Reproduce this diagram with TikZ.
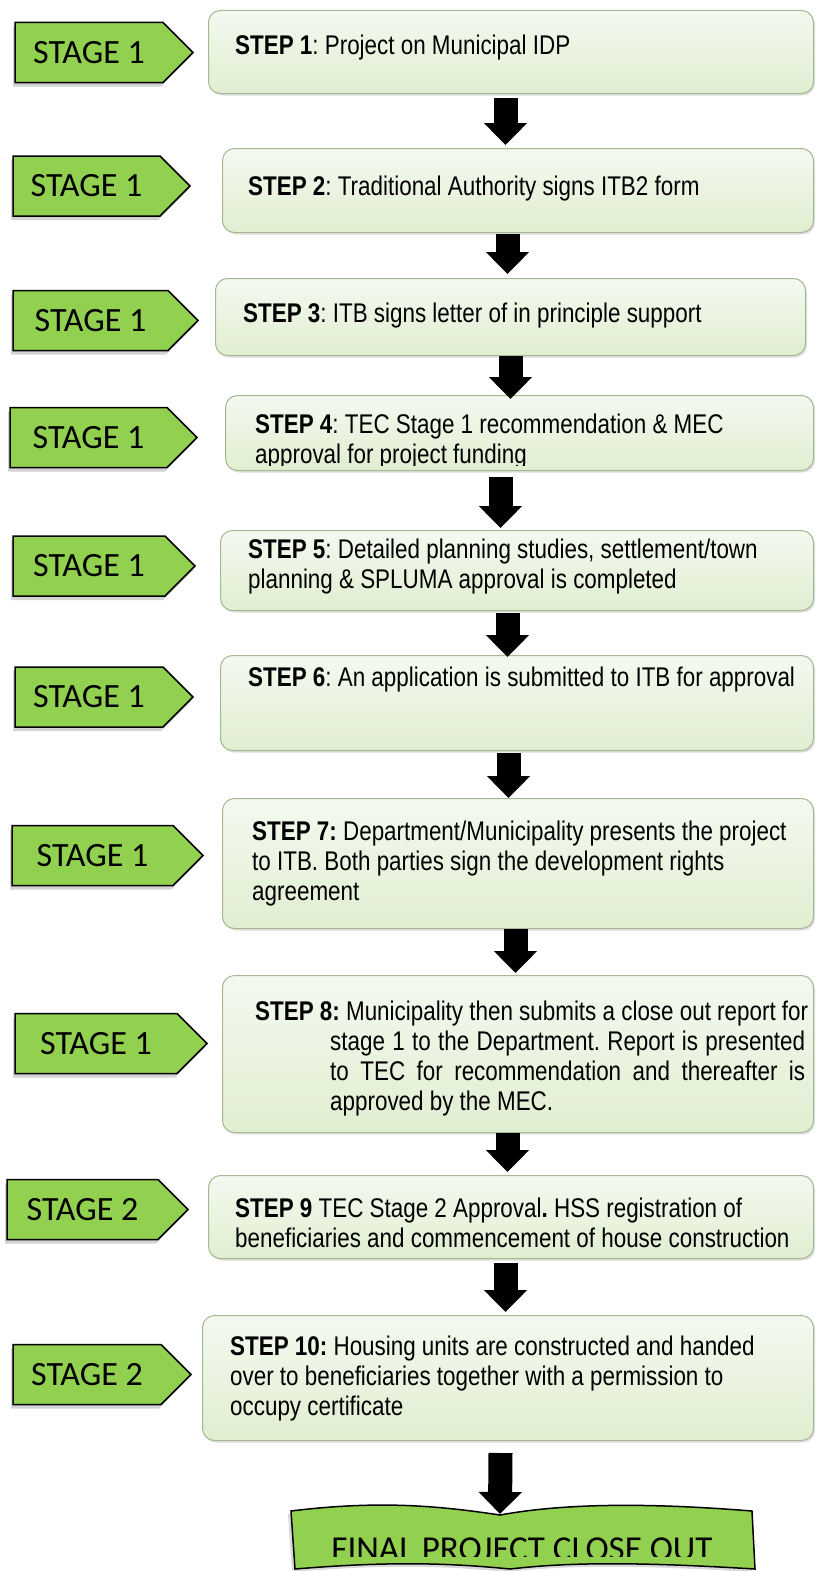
\documentclass[tikz,border=0pt]{standalone}
\usepackage{fontspec}
\newfontfamily\stepfont{Liberation Sans}[FakeStretch=0.83]
\newfontfamily\stagefont{Carlito}
\usetikzlibrary{shapes.symbols,shadows,arrows.meta}

\definecolor{stagegreen}{RGB}{146,208,80}
\definecolor{boxtop}{RGB}{244,249,240}
\definecolor{boxbot}{RGB}{224,238,208}
\definecolor{boxline}{RGB}{165,185,145}

\tikzset{
  stage/.style={signal, signal to=east, signal pointer angle=90, draw=black,
    line width=1.5pt, fill=stagegreen, inner sep=0pt,
    minimum width=178pt, minimum height=60pt,
    font=\stagefont\fontsize{34}{40}\selectfont,
    drop shadow={shadow xshift=-2pt, shadow yshift=-4pt, opacity=.35}},
  stepbox/.style={rectangle, rounded corners=12pt, draw=boxline, line width=1pt,
    top color=boxtop, bottom color=boxbot, anchor=north west, inner sep=0pt,
    drop shadow={shadow xshift=1.5pt, shadow yshift=-2pt, opacity=.25}},
  steptext/.style={anchor=base west, inner sep=0pt, align=left,
    font=\stepfont\fontsize{27}{30}\selectfont\frenchspacing},
  bigarrow/.style={line width=24pt, -{Triangle[width=42pt,length=22pt]}}
}

\begin{document}
\begin{tikzpicture}[x=1pt,y=-1pt]
\useasboundingbox (0,0) rectangle (817,1571);

% stages
\node[stage] (stage1) at (89,52.5) {STAGE 1};
\node[stage, minimum width=177pt] (stage2) at (86.5,186) {STAGE 1};
\node[stage, minimum width=185pt] (stage3) at (90.5,320.5) {STAGE 1};
\node[stage, minimum width=187pt] (stage4) at (88.5,437.5) {STAGE 1};
\node[stage, minimum width=182pt] (stage5) at (89,566) {STAGE 1};
\node[stage] (stage6) at (89,697) {STAGE 1};
\node[stage, minimum width=191pt] (stage7) at (92.5,855.5) {STAGE 1};
\node[stage, minimum width=192pt] (stage8) at (96,1043.5) {STAGE 1};
\node[stage, minimum width=181pt] (stage9) at (82.5,1209.5) {STAGE 2};
\node[stage] (stage10) at (87,1374.5) {STAGE 2};

% step boxes
\node[stepbox, minimum width=605pt, minimum height=83pt] (box1) at (208,10) {};
\node[stepbox, minimum width=591pt, minimum height=84pt] (box2) at (222,148) {};
\node[stepbox, minimum width=590pt, minimum height=77pt] (box3) at (215,278) {};
\node[stepbox, minimum width=588pt, minimum height=75pt] (box4) at (225,395) {};
\node[stepbox, minimum width=593pt, minimum height=80pt] (box5) at (220,530) {};
\node[stepbox, minimum width=593pt, minimum height=95pt] (box6) at (220,655) {};
\node[stepbox, minimum width=591pt, minimum height=130pt] (box7) at (222,798) {};
\node[stepbox, minimum width=591pt, minimum height=157pt] (box8) at (222,975) {};
\node[stepbox, minimum width=605pt, minimum height=83pt] (box9) at (208,1175) {};
\node[stepbox, minimum width=611pt, minimum height=125pt] (box10) at (202,1315) {};

% step texts (anchored on the baseline of the last line)
\node[steptext] (text1) at (235,55) {\textbf{STEP 1}: Project on Municipal IDP};
\node[steptext] (text2) at (248,195) {\textbf{STEP 2}: Traditional Authority signs ITB2 form};
\node[steptext] (text3) at (243,322) {\textbf{STEP 3}: ITB signs letter of in principle support};
\begin{scope}
  \clip (225,395) rectangle (813,465);
  \node[steptext] (text4) at (255,463) {\textbf{STEP 4}: TEC Stage 1 recommendation \& MEC\\
    approval for project funding};
\end{scope}
\node[steptext] (text5) at (248,588) {\textbf{STEP 5}: Detailed planning studies, settlement/town\\
  planning \& SPLUMA approval is completed};
\node[steptext] (text6) at (248,686) {\textbf{STEP 6}: An application is submitted to ITB for approval};
\node[steptext] (text7) at (252,900) {\textbf{STEP 7:} Department/Municipality presents the project\\
  to ITB. Both parties sign the development rights\\
  agreement};
\node[steptext] (text8) at (255,1110) {\textbf{STEP 8:} Municipality then submits a close out report for\\
  \hspace*{75pt}\makebox[475pt][s]{stage 1 to the Department. Report is presented}\\
  \hspace*{75pt}\makebox[475pt][s]{to TEC for recommendation and thereafter is}\\
  \hspace*{75pt}approved by the MEC.};
\node[steptext] (text9) at (235,1247) {\textbf{STEP 9} TEC Stage 2 Approval\textbf{.} HSS registration of\\
  beneficiaries and commencement of house construction};
\node[steptext] (text10) at (230,1415) {\textbf{STEP 10:} Housing units are constructed and handed\\
  over to beneficiaries together with a permission to\\
  occupy certificate};

% final banner
\draw[line width=1.5pt, fill=stagegreen,
  drop shadow={shadow xshift=-3pt, shadow yshift=-3pt, opacity=.3}]
  (291,1511) .. controls (380,1500) and (440,1506) .. (500,1515)
  .. controls (560,1504) and (640,1502) .. (752,1511)
  -- (755,1569)
  .. controls (640,1562) and (570,1562) .. (510,1569)
  .. controls (440,1562) and (380,1562) .. (295,1569) -- cycle;
\coordinate (closetop) at (500,1514);
\begin{scope}
  \clip (280,1500) rectangle (760,1556);
  \node[anchor=base, inner sep=0pt, font=\stagefont\fontsize{35}{40}\selectfont]
    (final) at (522,1560.5) {FINAL PROJECT CLOSE OUT};
\end{scope}

% arrows
\draw[bigarrow] ([xshift=-5.5pt,yshift=-4pt]box1.south) -- ([xshift=-12.5pt,yshift=3pt]box2.north);
\draw[bigarrow] ([xshift=-10.5pt,yshift=-1pt]box2.south) -- ([xshift=-3pt,yshift=4pt]box3.north);
\draw[bigarrow] (box3.south) -- ([xshift=-9pt,yshift=-4pt]box4.north);
\draw[bigarrow] ([xshift=-19pt,yshift=-6pt]box4.south) -- ([xshift=-16.5pt,yshift=2pt]box5.north);
\draw[bigarrow] ([xshift=-9.5pt,yshift=-2pt]box5.south) -- ([xshift=-9.5pt,yshift=-2pt]box6.north);
\draw[bigarrow] ([xshift=-8.5pt,yshift=-2pt]box6.south) -- ([xshift=-9.5pt]box7.north);
\draw[bigarrow] ([xshift=-2.5pt]box7.south) -- ([xshift=-2.5pt,yshift=2pt]box8.north);
\draw[bigarrow] ([xshift=-10.5pt]box8.south) -- ([xshift=-3.5pt,yshift=3pt]box9.north);
\draw[bigarrow] ([xshift=-5.5pt,yshift=-4pt]box9.south) -- ([xshift=-2.5pt,yshift=3pt]box10.north);
\draw[bigarrow] ([xshift=-7.5pt,yshift=-12pt]box10.south) -- (closetop);
\end{tikzpicture}
\end{document}
